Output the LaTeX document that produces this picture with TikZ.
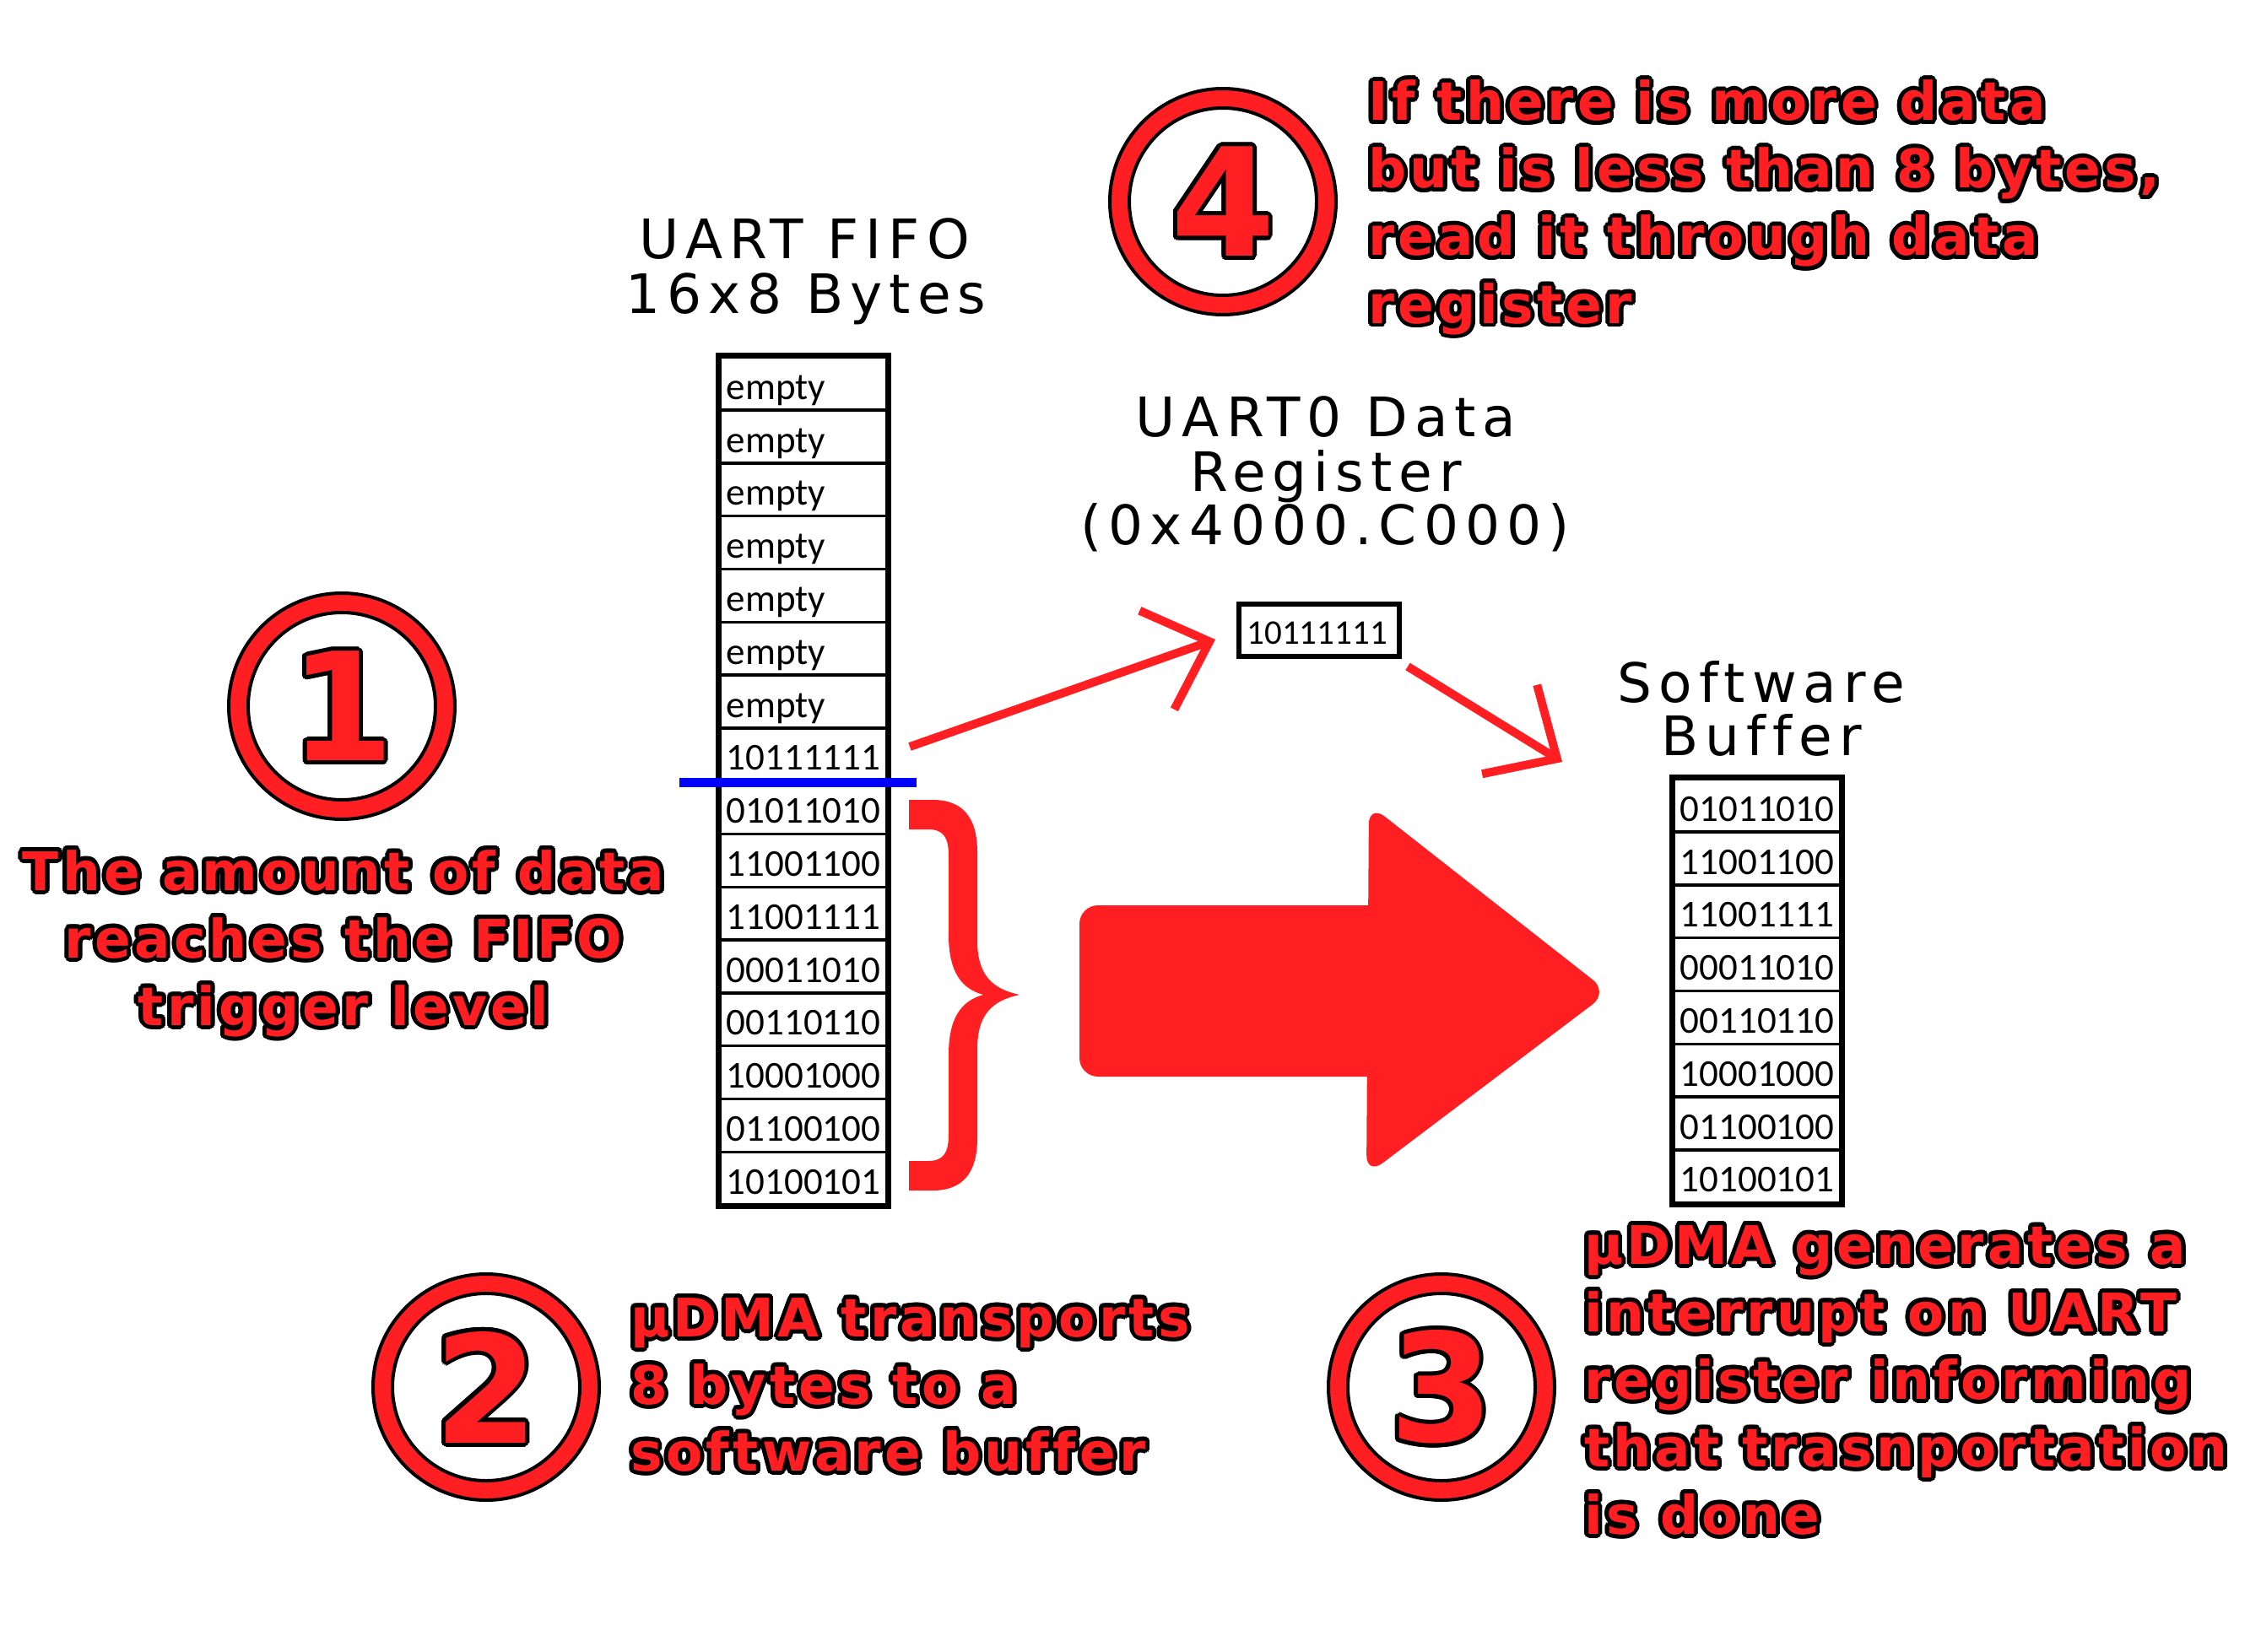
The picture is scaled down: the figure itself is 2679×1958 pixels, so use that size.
\documentclass[tikz,border=0pt]{standalone}
\usepackage{fontspec}
\usetikzlibrary{arrows.meta}
\newfontfamily\callfont[LetterSpace=7,Ligatures=NoCommon]{DejaVu Sans}
\newfontfamily\digfont{DejaVu Sans}
\newfontfamily\titfont[LetterSpace=12.5,Ligatures=NoCommon]{DejaVu Sans}
\newfontfamily\cellfont{Carlito}
\definecolor{dred}{RGB}{255,30,34}
\newlength\olen
\newcommand\outl[2][5pt]{%
  \setlength\olen{#1}%
  \leavevmode
  \foreach \ang in {0,22.5,...,337.5}{%
    \pgfmathsetlengthmacro\odx{\olen*cos(\ang)}%
    \pgfmathsetlengthmacro\ody{\olen*sin(\ang)}%
    \rlap{\kern\odx\raise\ody\hbox{\color{black}#2}}%
  }%
  #2}
\tikzset{
  callw/.style={anchor=base west, inner sep=0pt, text=dred, font=\callfont\bfseries\fontsize{63}{70}\selectfont},
  callc/.style={callw, anchor=base},
  title/.style={anchor=base, inner sep=0pt, font=\titfont\fontsize{64.5}{70}\selectfont},
  cell/.style={draw=black, line width=3.5pt, anchor=north west, minimum height=62.8pt,
    text width=182pt, inner xsep=8pt, inner ysep=0pt, align=left,
    text height=40pt, text depth=2.75pt, font=\cellfont\fontsize{45}{50}\selectfont},
  ringout/.style={circle, draw=black, line width=4pt, fill=dred, minimum size=268pt, inner sep=0pt},
  ringin/.style={circle, draw=black, line width=4pt, fill=white, minimum size=222pt, inner sep=0pt,
    text=dred, font=\digfont\bfseries\fontsize{178}{180}\selectfont},
  redarr/.style={draw=dred, line width=10pt, -{Straight Barb[length=66pt,width=124pt,sharp]}},
}
\begin{document}
\begin{tikzpicture}[x=1pt,y=-1pt]
\path[use as bounding box, fill=white] (0,0) rectangle (2679,1958);

% numbered rings
\node[ringout] (r1) at (405,837) {};
\node[ringin] (n1) at (r1.center) {\outl{1}};
\node[ringout] (r4) at (1449,239) {};
\node[ringin] (n4) at (r4.center) {\outl{4}};
\node[ringout] (r2) at (576,1644) {};
\node[ringin] (n2) at (r2.center) {\outl{2}};
\node[ringout] (r3) at (1708,1644) {};
\node[ringin] (n3) at (r3.center) {\outl{3}};

% callout texts
\node[callc] (s1a) at (407,1055) {\outl{The amount of data}};
\node[callc] (s1b) at (407,1135) {\outl{reaches the FIFO}};
\node[callc] (s1c) at (407,1215) {\outl{trigger level}};

\node[callw] (s4a) at (1621,143) {\outl{If there is more data}};
\node[callw] (s4b) at (1621,223) {\outl{but is less than 8 bytes,}};
\node[callw] (s4c) at (1621,303) {\outl{read it through data}};
\node[callw] (s4d) at (1621,383) {\outl{register}};

\node[callw] (s2a) at (747,1584) {\outl{µDMA transports}};
\node[callw] (s2b) at (747,1664) {\outl{8 bytes to a}};
\node[callw] (s2c) at (747,1743) {\outl{software buffer}};

\node[callw] (s3a) at (1877,1498) {\outl{µDMA generates a}};
\node[callw] (s3b) at (1877,1578) {\outl{interrupt on UART}};
\node[callw] (s3c) at (1877,1658) {\outl{register informing}};
\node[callw] (s3d) at (1877,1738) {\outl{that trasnportation}};
\node[callw] (s3e) at (1877,1818) {\outl{is done}};

% titles
\node[title] (t1a) at (953,307) {UART FIFO};
\node[title] (t1b) at (955,372) {16x8 Bytes};
\node[title] (t2a) at (1571,517) {UART0 Data};
\node[title] (t2b) at (1571,582) {Register};
\node[title] (t2c) at (1570,645) {(0x4000.C000)};
\node[title] (t3a) at (2087,832) {Software};
\node[title] (t3b) at (2087,895) {Buffer};

% FIFO
\foreach \t [count=\i] in {empty,empty,empty,empty,empty,empty,empty,10111111,01011010,11001100,11001111,00011010,00110110,10001000,01100100,10100101}{
  \node[cell] (f\i) at (851,{421.5+62.8*(\i-1)}) {\t};
}
\draw[line width=7pt] (f1.north west) rectangle (f16.south east);

% software buffer
\foreach \t [count=\i] in {01011010,11001100,11001111,00011010,00110110,10001000,01100100,10100101}{
  \node[cell] (b\i) at (1981,{921.5+62.8*(\i-1)}) {\t};
}
\draw[line width=7pt] (b1.north west) rectangle (b8.south east);

% data register
\node[draw=black, line width=6pt, minimum width=190pt, minimum height=62pt, text width=170pt,
  inner xsep=10pt, inner ysep=0pt, align=left, text height=36pt, text depth=3pt,
  font=\cellfont\fontsize{41}{45}\selectfont] (dreg) at (1562.5,746.5) {10111111};

% trigger level line
\coordinate (bl1) at (805,927);
\coordinate (bl2) at (1086,927);
\draw[blue, line width=11pt] (bl1) -- (bl2);

% thin red arrows
\coordinate (a1s) at (1078,885);
\coordinate (a1e) at (1440,758);
\draw[redarr] (a1s) -- (a1e);
\coordinate (a2s) at (1668,790);
\coordinate (a2e) at (1851,903);
\draw[redarr] (a2s) -- (a2e);

% brace
\fill[dred] (1077,948) -- (1105,948)
 .. controls (1140,948) and (1158,968) .. (1158,1010)
 -- (1158,1115)
 .. controls (1158,1155) and (1175,1172) .. (1208,1179)
 .. controls (1175,1186) and (1158,1203) .. (1158,1243)
 -- (1158,1349)
 .. controls (1158,1391) and (1140,1411) .. (1105,1411)
 -- (1077,1411) -- (1077,1376) -- (1100,1376)
 .. controls (1118,1376) and (1124,1366) .. (1124,1345)
 -- (1124,1250)
 .. controls (1124,1205) and (1140,1186) .. (1165,1179)
 .. controls (1140,1172) and (1124,1153) .. (1124,1108)
 -- (1124,1014)
 .. controls (1124,993) and (1118,983) .. (1100,983)
 -- (1077,983) -- cycle;

% big block arrow
\fill[dred, rounded corners=22pt] (1279,1073) rectangle (1660,1276);
\fill[dred, rounded corners=24pt] (1622,953) -- (1906,1176) -- (1619,1393) -- cycle;
\end{tikzpicture}
\end{document}
